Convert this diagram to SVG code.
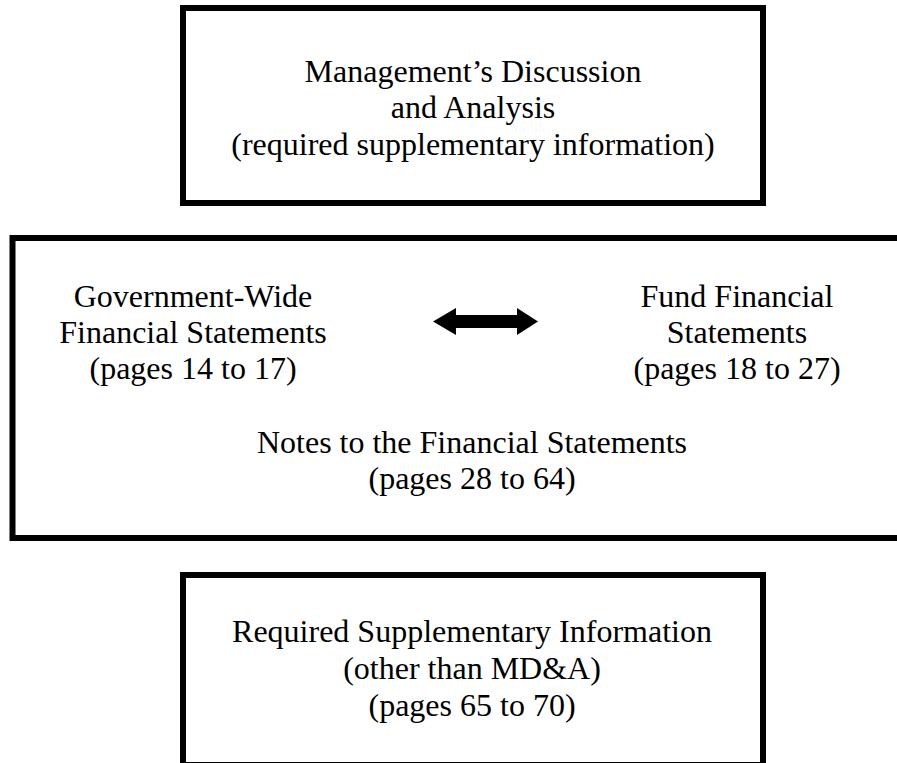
<svg xmlns="http://www.w3.org/2000/svg" width="897" height="763" viewBox="0 0 897 763">
  <style>
    .box { fill: none; stroke: #000; stroke-width: 6; }
    .t { font-family: "Liberation Serif", "Times New Roman", serif; font-size: 32px; fill: #000; text-anchor: middle; }
  </style>
  <rect x="0" y="0" width="897" height="763" fill="#fff"/>
  <g id="mdna">
    <rect class="box" x="183" y="8" width="580" height="195"/>
    <text class="t" x="473" y="82">Management’s Discussion</text>
    <text class="t" x="473" y="118">and Analysis</text>
    <text class="t" x="473" y="155">(required supplementary information)</text>
  </g>
  <g id="basic-statements">
    <rect class="box" x="12.5" y="238" width="900" height="300"/>
  </g>
  <g id="government-wide">
    <text class="t" x="193" y="307">Government-Wide</text>
    <text class="t" x="193" y="343">Financial Statements</text>
    <text class="t" x="193" y="379">(pages 14 to 17)</text>
  </g>
  <g id="fund">
    <text class="t" x="737" y="307">Fund Financial</text>
    <text class="t" x="737" y="343">Statements</text>
    <text class="t" x="737" y="379">(pages 18 to 27)</text>
  </g>
  <g id="notes">
    <text class="t" x="472" y="453">Notes to the Financial Statements</text>
    <text class="t" x="472" y="489">(pages 28 to 64)</text>
  </g>
  <g id="rsi">
    <rect class="box" x="183" y="575" width="580" height="190"/>
    <text class="t" x="472" y="642">Required Supplementary Information</text>
    <text class="t" x="472" y="679">(other than MD&amp;A)</text>
    <text class="t" x="472" y="716">(pages 65 to 70)</text>
  </g>
  <g id="connectors">
    <polygon fill="#000" points="433,321.5 456,308 456,315 517,315 517,308 538,321.5 517,335 517,328 456,328 456,335"/>
  </g>
</svg>
